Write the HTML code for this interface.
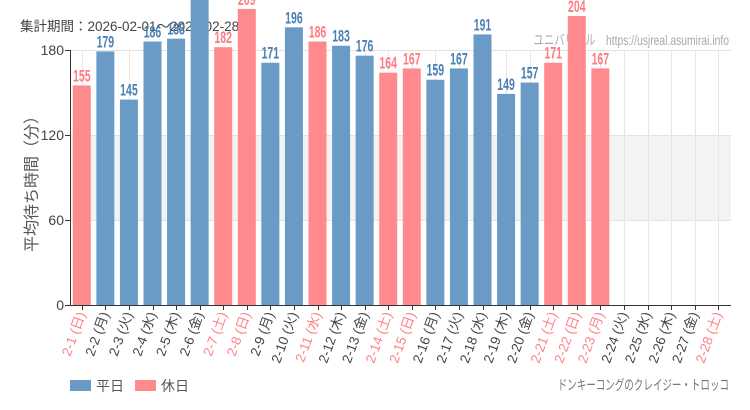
<!DOCTYPE html>
<html><head><meta charset="utf-8"><style>
html,body{margin:0;padding:0;background:#fff;}
svg{display:block;font-family:"Liberation Sans","Noto Sans CJK JP",sans-serif;}
</style></head><body>
<svg width="750" height="410" viewBox="0 0 750 410">
<defs><clipPath id="c"><rect x="70" y="0" width="662" height="305"/></clipPath></defs>
<rect x="70" y="135" width="661" height="85" fill="#f3f3f3"/>
<g stroke="#e2e2e2" stroke-width="1">
<line x1="70" y1="50.5" x2="731" y2="50.5"/><line x1="70" y1="135.5" x2="731" y2="135.5"/><line x1="70" y1="220.5" x2="731" y2="220.5"/>
</g>
<g id="vg" stroke="#e6e6e6" stroke-width="1"></g>
<text x="20" y="31" font-size="13.5" fill="#444">集計期間：2026-02-01～2026-02-28</text>
<text x="729" y="45" font-size="14" fill="#aaa" text-anchor="end" transform="translate(729 0) scale(0.74 1) translate(-729 0)">ユニバリアル　https://usjreal.asumirai.info</text>
<g id="bars" clip-path="url(#c)"></g>
<g id="vals"></g>
<line x1="70.5" y1="50" x2="70.5" y2="305" stroke="#333"/>
<line x1="70" y1="305.5" x2="731" y2="305.5" stroke="#333"/>
<g stroke="#333"><line x1="65" y1="50.5" x2="70" y2="50.5"/><line x1="65" y1="135.5" x2="70" y2="135.5"/><line x1="65" y1="220.5" x2="70" y2="220.5"/><line x1="65" y1="305.5" x2="70" y2="305.5"/></g>
<g font-size="14" fill="#444" text-anchor="end"><text x="64" y="55">180</text><text x="64" y="140">120</text><text x="64" y="225">60</text><text x="64" y="310">0</text></g>
<text transform="translate(37 180) rotate(-90)" font-size="16" fill="#555" text-anchor="middle">平均待ち時間（分）</text>
<g id="ticks" stroke="#333"></g>
<g id="xl" font-size="13.5"></g>
<rect x="70" y="380" width="21" height="11" fill="#6a9bc6"/><text x="96" y="391" font-size="14" fill="#555">平日</text>
<rect x="135" y="380" width="21" height="11" fill="#ff8a8e"/><text x="161" y="391" font-size="14" fill="#555">休日</text>
<text x="729" y="390" font-size="14" fill="#777" text-anchor="end" transform="translate(729 0) scale(0.68 1) translate(-729 0)">ドンキーコングのクレイジー・トロッコ</text>
</svg>
<script>
var v=[155,179,145,186,188,230,182,209,171,196,186,183,176,164,167,159,167,191,149,157,171,204,167,null,null,null,null,null];
var h=[1,0,0,0,0,0,1,1,0,0,1,0,0,1,1,0,0,0,0,0,1,1,1,0,0,0,0,1];
var wd=["日","月","火","水","木","金","土"];
var ns="http://www.w3.org/2000/svg";
function el(p,t,a,tx){var e=document.createElementNS(ns,t);for(var k in a)e.setAttribute(k,a[k]);if(tx!=null)e.textContent=tx;document.getElementById(p).appendChild(e);}
var sp=660/28;
for(var i=0;i<28;i++){
 var cx=70+sp*(i+0.5);
 el("vg","line",{x1:Math.round(cx)+0.5,y1:50,x2:Math.round(cx)+0.5,y2:305});
 el("ticks","line",{x1:Math.round(cx)+0.5,y1:305,x2:Math.round(cx)+0.5,y2:310});
 if(v[i]!=null){
  var y=305-v[i]*85/60;
  el("bars","rect",{x:cx-9,y:y,width:18,height:305-y,fill:h[i]?"#ff8a8e":"#6a9bc6"});
  el("vals","text",{x:cx,y:y-4,"font-size":17,"font-weight":"bold",fill:h[i]?"#ff7b80":"#4a7fb3","text-anchor":"middle",transform:"translate("+cx+" 0) scale(0.62 1) translate("+(-cx)+" 0)"},v[i]);
 }
 el("xl","text",{x:0,y:0,"text-anchor":"end",fill:h[i]?"#ff8085":"#444",transform:"translate("+(cx+4)+" 314) rotate(-70)"},"2-"+(i+1)+" ("+wd[i%7]+")");
}
</script>
</body></html>
